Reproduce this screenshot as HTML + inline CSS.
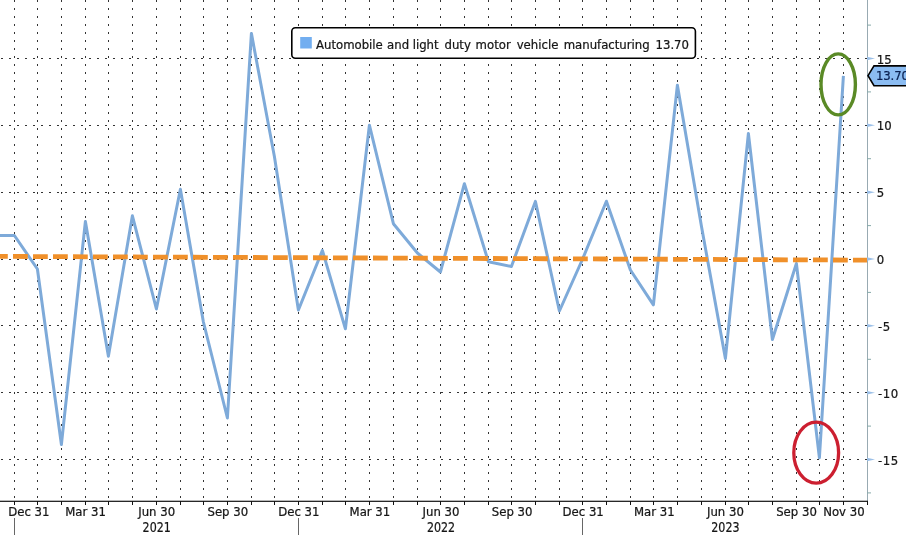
<!DOCTYPE html><html><head><meta charset="utf-8"><style>html,body{margin:0;padding:0;background:#fff;overflow:hidden}svg{display:block}text{font-family:'DejaVu Sans Condensed','Liberation Sans',sans-serif;fill:#151515;stroke:#151515;stroke-width:0.22px}text.lab{fill:#0a2050;stroke:#0a2050}</style></head><body>
<svg width="906" height="553" viewBox="0 0 906 553" style="will-change:transform">
<rect width="906" height="553" fill="#fff"/>
<path d="M14 0V500M37 0V500M61 0V500M85 0V500M108 0V500M132 0V500M156 0V500M180 0V500M203 0V500M227 0V500M251 0V500M274 0V500M298 0V500M322 0V500M345 0V500M369 0V500M393 0V500M417 0V500M440 0V500M464 0V500M488 0V500M511 0V500M535 0V500M559 0V500M582 0V500M606 0V500M630 0V500M653 0V500M677 0V500M701 0V500M725 0V500M748 0V500M772 0V500M796 0V500M819 0V500M843 0V500" stroke="#333" stroke-width="1" stroke-dasharray="2 6" transform="translate(0.5,0)" fill="none"/>
<path d="M1 58H867M1 125H867M1 192H867M1 259H867M1 325H867M1 392H867M1 459H867" stroke="#333" stroke-width="1" stroke-dasharray="2 6" transform="translate(0,0.5)" fill="none"/>
<polyline points="-9.6,235.5 14.4,235.5 37.4,269.0 61.4,444.5 85.4,221.4 108.4,356.3 132.4,215.8 156.4,309.0 180.4,189.2 203.4,322.0 227.4,418.0 251.4,33.4 274.4,156.5 298.4,310.0 322.4,250.4 345.4,328.8 369.4,125.2 393.4,223.7 417.4,253.0 440.4,272.0 464.4,183.7 488.4,261.8 511.4,266.5 535.4,201.4 559.4,311.0 582.4,259.5 606.4,201.2 630.4,270.0 653.4,304.8 677.4,85.2 701.4,226.0 725.4,358.5 748.4,133.5 772.4,339.5 796.4,263.5 819.4,457.7 843.4,75.9" fill="none" stroke="#7eaad9" stroke-width="3" stroke-linejoin="round" stroke-linecap="butt"/>
<line x1="-7" y1="256.37" x2="867" y2="260.13" stroke="#f0902a" stroke-width="4.8" stroke-dasharray="14.8 5.2"/>
<rect x="867" y="0" width="1" height="502" fill="#98aab2"/>
<path d="M867 56.7 L875 58.5 L867 60.3 Z" fill="#9cc0e8"/>
<text x="876.8" y="63.6" font-size="13">15</text>
<path d="M867 123.5 L875 125.3 L867 127.1 Z" fill="#9cc0e8"/>
<text x="876.8" y="130.4" font-size="13">10</text>
<path d="M867 190.4 L875 192.2 L867 194.0 Z" fill="#9cc0e8"/>
<text x="876.8" y="197.3" font-size="13">5</text>
<path d="M867 257.2 L875 259.0 L867 260.8 Z" fill="#9cc0e8"/>
<text x="876.8" y="264.1" font-size="13">0</text>
<path d="M867 324.0 L875 325.8 L867 327.6 Z" fill="#9cc0e8"/>
<text x="878.0" y="330.9" font-size="13" letter-spacing="0.6">-5</text>
<path d="M867 390.9 L875 392.7 L867 394.5 Z" fill="#9cc0e8"/>
<text x="878.0" y="397.8" font-size="13" letter-spacing="0.6">-10</text>
<path d="M867 457.7 L875 459.5 L867 461.3 Z" fill="#9cc0e8"/>
<text x="878.0" y="464.6" font-size="13" letter-spacing="0.6">-15</text>
<rect x="867" y="24.6" width="4" height="1" fill="#8aa"/>
<rect x="867" y="91.4" width="4" height="1" fill="#8aa"/>
<rect x="867" y="158.2" width="4" height="1" fill="#8aa"/>
<rect x="867" y="225.1" width="4" height="1" fill="#8aa"/>
<rect x="867" y="291.9" width="4" height="1" fill="#8aa"/>
<rect x="867" y="358.8" width="4" height="1" fill="#8aa"/>
<rect x="867" y="425.6" width="4" height="1" fill="#8aa"/>
<rect x="867" y="492.4" width="4" height="1" fill="#8aa"/>
<rect x="0" y="500.7" width="868" height="1.2" fill="#111"/>
<path d="M14.5 501V505M37.5 501V505M61.5 501V505M85.5 501V505M108.5 501V505M132.5 501V505M156.5 501V505M180.5 501V505M203.5 501V505M227.5 501V505M251.5 501V505M274.5 501V505M298.5 501V505M322.5 501V505M345.5 501V505M369.5 501V505M393.5 501V505M417.5 501V505M440.5 501V505M464.5 501V505M488.5 501V505M511.5 501V505M535.5 501V505M559.5 501V505M582.5 501V505M606.5 501V505M630.5 501V505M653.5 501V505M677.5 501V505M701.5 501V505M725.5 501V505M748.5 501V505M772.5 501V505M796.5 501V505M819.5 501V505M843.5 501V505M867.5 501V505" stroke="#111" stroke-width="1" fill="none"/>
<text x="8.2" y="515.7" font-size="13">Dec 31</text>
<text x="85.6" y="515.7" font-size="13" text-anchor="middle">Mar 31</text>
<text x="156.7" y="515.7" font-size="13" text-anchor="middle">Jun 30</text>
<text x="227.8" y="515.7" font-size="13" text-anchor="middle">Sep 30</text>
<text x="298.8" y="515.7" font-size="13" text-anchor="middle">Dec 31</text>
<text x="369.9" y="515.7" font-size="13" text-anchor="middle">Mar 31</text>
<text x="441.0" y="515.7" font-size="13" text-anchor="middle">Jun 30</text>
<text x="512.1" y="515.7" font-size="13" text-anchor="middle">Sep 30</text>
<text x="583.2" y="515.7" font-size="13" text-anchor="middle">Dec 31</text>
<text x="654.3" y="515.7" font-size="13" text-anchor="middle">Mar 31</text>
<text x="725.4" y="515.7" font-size="13" text-anchor="middle">Jun 30</text>
<text x="796.5" y="515.7" font-size="13" text-anchor="middle">Sep 30</text>
<text x="843.9" y="515.7" font-size="13" text-anchor="middle">Nov 30</text>
<line x1="14.5" y1="518" x2="14.5" y2="535" stroke="#666" stroke-width="1"/>
<line x1="298.5" y1="518" x2="298.5" y2="535" stroke="#666" stroke-width="1"/>
<line x1="582.5" y1="518" x2="582.5" y2="535" stroke="#666" stroke-width="1"/>
<text x="156.7" y="532" font-size="13.2" text-anchor="middle" textLength="28.2" lengthAdjust="spacingAndGlyphs">2021</text>
<text x="441.0" y="532" font-size="13.2" text-anchor="middle" textLength="28.2" lengthAdjust="spacingAndGlyphs">2022</text>
<text x="725.4" y="532" font-size="13.2" text-anchor="middle" textLength="28.2" lengthAdjust="spacingAndGlyphs">2023</text>
<rect x="291.8" y="27.7" width="403.6" height="30.6" rx="3.5" fill="#fff" stroke="#000" stroke-width="1.6"/>
<rect x="300.2" y="37" width="11.6" height="11.5" fill="#72aef0"/>
<text y="48.7" font-size="13"><tspan x="316.0">Automobile</tspan> <tspan x="387.1">and</tspan> <tspan x="412.7">light</tspan> <tspan x="444.5">duty</tspan> <tspan x="475.6">motor</tspan> <tspan x="516.7">vehicle</tspan> <tspan x="563.7">manufacturing</tspan> <tspan x="655.5">13.70</tspan></text>
<path d="M868 75.7 L874 65.9 H907 V85.7 H874 Z" fill="#8bbcf2" stroke="#000" stroke-width="1.6" stroke-linejoin="miter"/>
<text x="876.0" y="80.2" font-size="13" letter-spacing="-0.15" class="lab">13.70</text>
<ellipse cx="816.2" cy="452.7" rx="22.4" ry="30.5" fill="none" stroke="#cc1f30" stroke-width="3.3"/>
<ellipse cx="838.2" cy="84.4" rx="17.2" ry="30.5" fill="none" stroke="#5a8a26" stroke-width="3.4"/>
</svg></body></html>
